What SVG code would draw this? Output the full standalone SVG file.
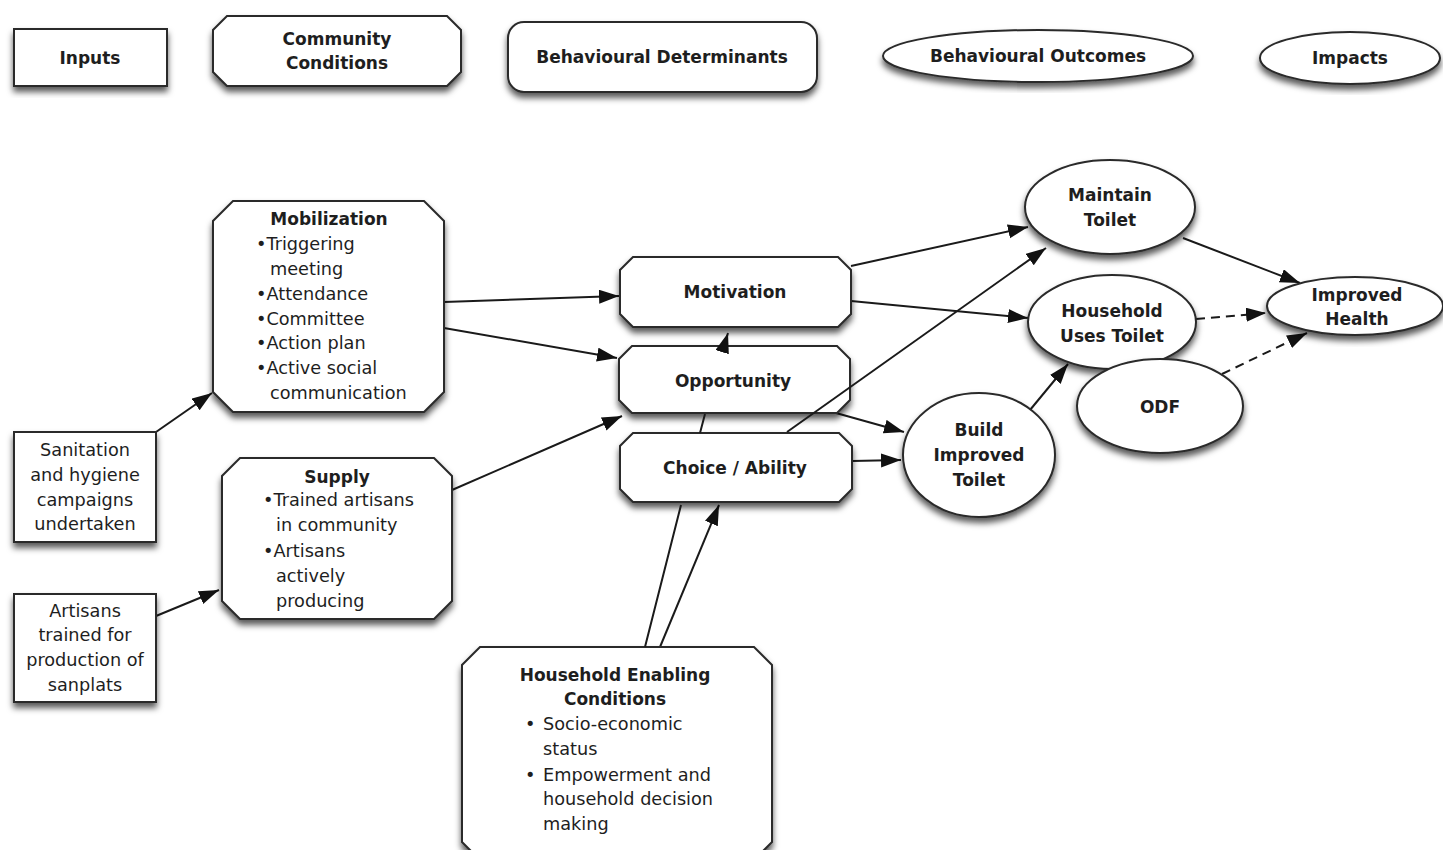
<svg xmlns="http://www.w3.org/2000/svg" width="1443" height="850" viewBox="0 0 1443 850">
<style>
.n{fill:#fff;stroke:#2a2a2a;stroke-width:2;filter:url(#sh)}
.t{font-family:"DejaVu Sans","Liberation Sans",sans-serif;font-size:17.7px;fill:#1e1e1e}
.b{font-weight:bold;font-size:17px}
.c{text-anchor:middle}
.e{fill:none;stroke:#1a1a1a;stroke-width:2;marker-end:url(#ah)}
.d{stroke-dasharray:9,6}
</style>
<defs>
<filter id="sh" x="-10%" y="-10%" width="120%" height="130%">
<feDropShadow dx="0" dy="5" stdDeviation="3" flood-color="#000" flood-opacity="0.65"/>
</filter>
<marker id="ah" markerUnits="userSpaceOnUse" markerWidth="22" markerHeight="16" refX="20" refY="7" orient="auto">
<path d="M0,0 L20,7 L0,14 Z" fill="#111"/>
</marker>
</defs>
<rect width="1443" height="850" fill="#fff"/>

<g id="legend-inputs"><rect class="n" x="14" y="29" width="153" height="57"/><text class="t b c" x="90" y="64">Inputs</text></g>
<g id="legend-community"><path class="n" d="M227,16 L447,16 L461,30 L461,72 L447,86 L227,86 L213,72 L213,30 Z"/><text class="t b c" x="337" y="45">Community</text><text class="t b c" x="337" y="69">Conditions</text></g>
<g id="legend-determinants"><rect class="n" x="508" y="22" width="309" height="70" rx="16"/><text class="t b c" x="662" y="63">Behavioural Determinants</text></g>
<g id="legend-outcomes"><ellipse class="n" cx="1038" cy="56" rx="155" ry="26"/><text class="t b c" x="1038" y="62">Behavioural Outcomes</text></g>
<g id="legend-impacts"><ellipse class="n" cx="1350" cy="58" rx="90" ry="26"/><text class="t b c" x="1350" y="64">Impacts</text></g>

<g id="connectors">
<path class="e" d="M156,432 L212,393"/>
<path class="e" d="M156,616 L219,590"/>
<path class="e" d="M444,302 L619,296"/>
<path class="e" d="M444,328 L617,358"/>
<path class="e" d="M452,490 L622,416"/>
<path class="e" d="M851,266 L1028,227"/>
<path class="e" d="M851,301 L1028,318"/>
<path class="e" d="M836,413 L904,432"/>
<path class="e" d="M852,461 L901,460"/>
<path class="e" d="M1030,410 L1068,364"/>
<path class="e" d="M1183,238 L1300,283"/>
<path class="e d" d="M1196,319 L1266,313"/>
<path class="e d" d="M1222,374 L1307,333"/>
<path class="e" d="M660,647 L719,505"/>
</g>

<g id="mobilization"><path class="n" d="M233,201 L424,201 L444,221 L444,392 L424,412 L233,412 L213,392 L213,221 Z"/>
<text class="t b c" x="329" y="225">Mobilization</text>
<text class="t" x="256" y="250">•Triggering</text>
<text class="t" x="270" y="275">meeting</text>
<text class="t" x="256" y="300">•Attendance</text>
<text class="t" x="256" y="325">•Committee</text>
<text class="t" x="256" y="349">•Action plan</text>
<text class="t" x="256" y="374">•Active social</text>
<text class="t" x="270" y="399">communication</text></g>

<g id="sanitation"><rect class="n" x="14" y="432" width="142" height="110"/>
<text class="t c" x="85" y="456">Sanitation</text>
<text class="t c" x="85" y="481">and hygiene</text>
<text class="t c" x="85" y="506">campaigns</text>
<text class="t c" x="85" y="530">undertaken</text></g>

<g id="artisans"><rect class="n" x="14" y="594" width="142" height="108"/>
<text class="t c" x="85" y="617">Artisans</text>
<text class="t c" x="85" y="641">trained for</text>
<text class="t c" x="85" y="666">production of</text>
<text class="t c" x="85" y="691">sanplats</text></g>

<g id="supply"><path class="n" d="M240,458 L434,458 L452,476 L452,601 L434,619 L240,619 L222,601 L222,476 Z"/>
<text class="t b c" x="337" y="483">Supply</text>
<text class="t" x="263" y="506">•Trained artisans</text>
<text class="t" x="276" y="531">in community</text>
<text class="t" x="263" y="557">•Artisans</text>
<text class="t" x="276" y="582">actively</text>
<text class="t" x="276" y="607">producing</text></g>

<g id="motivation"><path class="n" d="M633,257 L838,257 L851,270 L851,314 L838,327 L633,327 L620,314 L620,270 Z"/><text class="t b c" x="735" y="298">Motivation</text></g>
<g id="opportunity"><path class="n" d="M632,346 L837,346 L850,359 L850,400 L837,413 L632,413 L619,400 L619,359 Z"/><text class="t b c" x="733" y="387">Opportunity</text></g>
<g id="choice"><path class="n" d="M633,433 L839,433 L852,446 L852,489 L839,502 L633,502 L620,489 L620,446 Z"/><text class="t b c" x="735" y="474">Choice / Ability</text></g>

<g id="enabling"><path class="n" d="M480,647 L754,647 L772,665 L772,842 L754,860 L480,860 L462,842 L462,665 Z"/>
<text class="t b c" x="615" y="681">Household Enabling</text>
<text class="t b c" x="615" y="705">Conditions</text>
<text class="t" x="525" y="730">•</text><text class="t" x="543" y="730">Socio-economic</text>
<text class="t" x="543" y="755">status</text>
<text class="t" x="525" y="781">•</text><text class="t" x="543" y="781">Empowerment and</text>
<text class="t" x="543" y="805">household decision</text>
<text class="t" x="543" y="830">making</text></g>

<g id="maintain"><ellipse class="n" cx="1110" cy="207" rx="85" ry="47"/><text class="t b c" x="1110" y="201">Maintain</text><text class="t b c" x="1110" y="226">Toilet</text></g>
<g id="uses"><ellipse class="n" cx="1112" cy="322" rx="84" ry="47"/><text class="t b c" x="1112" y="317">Household</text><text class="t b c" x="1112" y="342">Uses Toilet</text></g>
<g id="odf"><ellipse class="n" cx="1160" cy="406" rx="83" ry="47"/><text class="t b c" x="1160" y="413">ODF</text></g>
<g id="health"><ellipse class="n" cx="1355" cy="306" rx="88" ry="29"/><text class="t b c" x="1357" y="301">Improved</text><text class="t b c" x="1357" y="325">Health</text></g>
<g id="build"><ellipse class="n" cx="979" cy="455" rx="76" ry="62"/><text class="t b c" x="979" y="436">Build</text><text class="t b c" x="979" y="461">Improved</text><text class="t b c" x="979" y="486">Toilet</text></g>

<g id="connectors-over">
<path class="e" d="M645,647 L681,505 M700,433 L705,414 M724,346 L728,333"/>
<path class="e" d="M787,432 L1046,248"/>
</g>
</svg>
